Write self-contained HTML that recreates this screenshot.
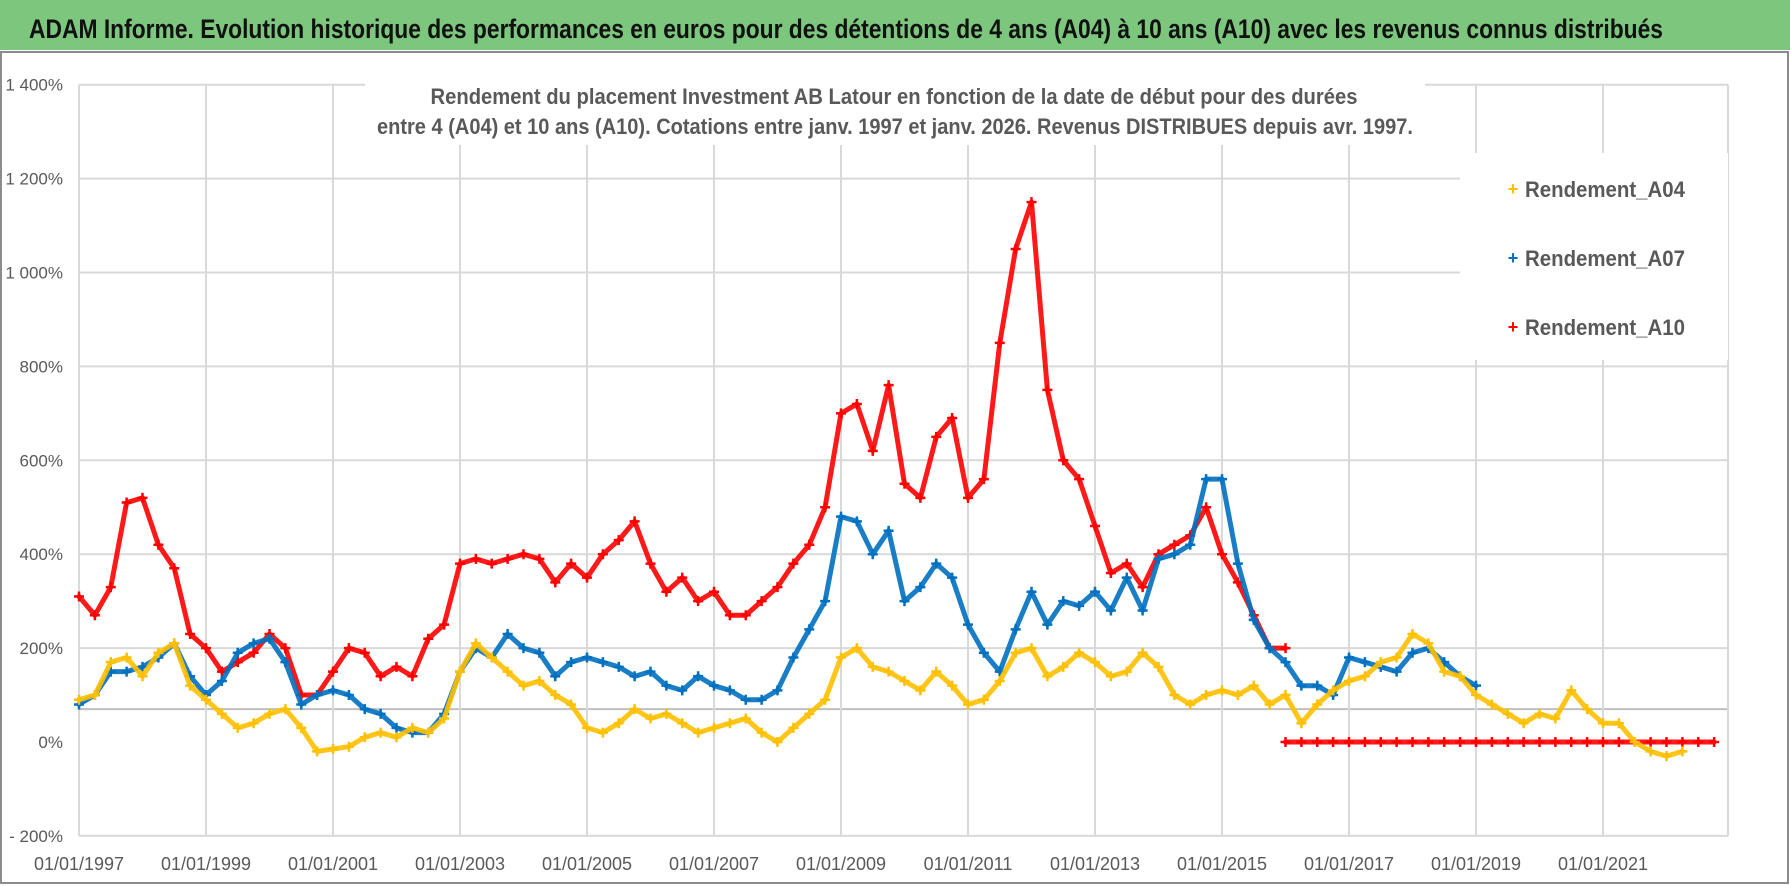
<!DOCTYPE html>
<html><head><meta charset="utf-8">
<style>
html,body{margin:0;padding:0;background:#fff;}
svg{display:block;font-family:"Liberation Sans",sans-serif;}
</style></head>
<body>
<svg id="chart" width="1790" height="886" viewBox="0 0 1790 886" xmlns="http://www.w3.org/2000/svg">
<rect x="0" y="0" width="1790" height="50" fill="#7dc67d"/>
<rect x="1" y="52" width="1787" height="831" fill="#fff" stroke="#8c8c8c" stroke-width="2"/>
<text x="29" y="38" font-size="27" font-weight="bold" fill="#111" textLength="1634" lengthAdjust="spacingAndGlyphs">ADAM Informe. Evolution historique des performances en euros pour des détentions de 4 ans (A04) à 10 ans (A10) avec les revenus connus distribués</text>
<g id="grid"></g>
<g id="ylabels"></g>
<g id="xlabels"></g>
<rect x="365" y="68" width="1060" height="77" fill="#fff"/>
<text x="894" y="104" font-size="22" font-weight="bold" fill="#595959" text-anchor="middle" textLength="927" lengthAdjust="spacingAndGlyphs">Rendement du placement Investment AB Latour en fonction de la date de début pour des durées</text>
<text x="895" y="134" font-size="22" font-weight="bold" fill="#595959" text-anchor="middle" textLength="1036" lengthAdjust="spacingAndGlyphs">entre 4 (A04) et 10 ans (A10).  Cotations entre janv. 1997 et janv. 2026. Revenus DISTRIBUES depuis avr. 1997.</text>
<g id="series"></g>
<rect x="1460" y="153" width="268" height="207" fill="#fff"/>
<g>
<text x="1513" y="195" font-size="18" fill="#ffc000" text-anchor="middle" font-weight="bold">+</text>
<text x="1525" y="197" font-size="22" font-weight="bold" fill="#595959" textLength="160" lengthAdjust="spacingAndGlyphs">Rendement_A04</text></g>
<g>
<text x="1513" y="264" font-size="18" fill="#0070c0" text-anchor="middle" font-weight="bold">+</text>
<text x="1525" y="266" font-size="22" font-weight="bold" fill="#595959" textLength="160" lengthAdjust="spacingAndGlyphs">Rendement_A07</text></g>
<g>
<text x="1513" y="333" font-size="18" fill="#ff0000" text-anchor="middle" font-weight="bold">+</text>
<text x="1525" y="335" font-size="22" font-weight="bold" fill="#595959" textLength="160" lengthAdjust="spacingAndGlyphs">Rendement_A10</text></g>
</svg>
<script>
const yTicks=[1400,1200,1000,800,600,400,200,0,-200];
const yTickLabels=["1 400%","1 200%","1 000%","800%","600%","400%","200%","0%","- 200%"];
const xTicks=[1997,1999,2001,2003,2005,2007,2009,2011,2013,2015,2017,2019,2021];
const xTickLabels=["01/01/1997","01/01/1999","01/01/2001","01/01/2003","01/01/2005","01/01/2007","01/01/2009","01/01/2011","01/01/2013","01/01/2015","01/01/2017","01/01/2019","01/01/2021"];
const refLineValue=70;
const a04Start=1997, a04Step=0.25;
const a04=[90,100,170,180,140,190,210,120,90,60,30,40,60,70,30,-20,-15,-10,10,20,10,30,20,50,150,210,180,150,120,130,100,80,30,20,40,70,50,60,40,20,30,40,50,20,0,30,60,90,180,200,160,150,130,110,150,120,80,90,130,190,200,140,160,190,170,140,150,190,160,100,80,100,110,100,120,80,100,40,80,110,130,140,170,180,230,210,150,140,100,80,60,40,60,50,110,70,40,40,0,-20,-30,-20];
const a07Start=1997, a07Step=0.25;
const a07=[80,100,150,150,160,180,210,140,100,130,190,210,220,170,80,100,110,100,70,60,30,20,20,60,150,200,180,230,200,190,140,170,180,170,160,140,150,120,110,140,120,110,90,90,110,180,240,300,480,470,400,450,300,330,380,350,250,190,150,240,320,250,300,290,320,280,350,280,390,400,420,560,560,380,260,200,170,120,120,100,180,170,160,150,190,200,170,140,120];
const a10Start=1997, a10Step=0.25;
const a10=[310,270,330,510,520,420,370,230,200,150,170,190,230,200,100,100,150,200,190,140,160,140,220,250,380,390,380,390,400,390,340,380,350,400,430,470,380,320,350,300,320,270,270,300,330,380,420,500,700,720,620,760,550,520,650,690,520,560,850,1050,1150,750,600,560,460,360,380,330,400,420,440,500,400,340,270,200,200];
const a10ZeroStart=2016.0, a10ZeroStep=0.25;
const a10Zero=[0,0,0,0,0,0,0,0,0,0,0,0,0,0,0,0,0,0,0,0,0,0,0,0,0,0,0,0];

const NS="http://www.w3.org/2000/svg";
const X0=79, X1=1728, Y0=742, PXY=63.5, PXV=0.4695;
function xs(yr){return X0+(yr-1997)*PXY;}
function ys(v){return Y0-v*PXV;}
function mk(tag,attrs,parent){const e=document.createElementNS(NS,tag);for(const k in attrs)e.setAttribute(k,attrs[k]);parent.appendChild(e);return e;}
const grid=document.getElementById('grid');
yTicks.forEach((v,i)=>{
  if(v!==0){const l=mk('line',{x1:X0,x2:X1,y1:ys(v),y2:ys(v),stroke:'#d9d9d9','stroke-width':2},grid);
  
  }
  const t=mk('text',{x:63,y:ys(v)+6,'font-size':17,fill:'#595959','text-anchor':'end'},document.getElementById('ylabels'));
  
  
  t.textContent=yTickLabels[i];
});
const rl=mk('line',{x1:X0,x2:X1,y1:ys(refLineValue),y2:ys(refLineValue),stroke:'#bfbfbf','stroke-width':2},grid);


xTicks.forEach((yr,i)=>{
  const l=mk('line',{x1:xs(yr),x2:xs(yr),y1:ys(1400),y2:ys(-200),stroke:'#d9d9d9','stroke-width':2},grid);
  
  
  const t=mk('text',{x:xs(yr),y:870,'font-size':18,fill:'#595959','text-anchor':'middle'},document.getElementById('xlabels'));
  
  
  t.textContent=xTickLabels[i];
});
const rg=mk('line',{x1:X1,x2:X1,y1:ys(1400),y2:ys(-200),stroke:'#d9d9d9','stroke-width':2},grid);


function drawSeries(vals,start,step,color,name){
  const g=mk('g',{},document.getElementById('series'));
  
  
  const pts=vals.map((v,i)=>xs(start+i*step).toFixed(1)+','+ys(v).toFixed(1)).join(' ');
  mk('polyline',{points:pts,fill:'none',stroke:color,'stroke-width':5,'stroke-linejoin':'round','stroke-linecap':'round','stroke-opacity':0.9},g);
  vals.forEach((v,i)=>{
    const cx=xs(start+i*step), cy=ys(v);
    const p=mk('path',{d:`M${cx-5} ${cy}H${cx+5}M${cx} ${cy-5}V${cy+5}`,stroke:color,'stroke-width':2.5},g);
    
    
  });
}
drawSeries(a10,a10Start,a10Step,'#ff0000','series-a10');
drawSeries(a10Zero,a10ZeroStart,a10ZeroStep,'#ff0000','series-a10-zero');
drawSeries(a07,a07Start,a07Step,'#0070c0','series-a07');
drawSeries(a04,a04Start,a04Step,'#ffc000','series-a04');
</script>
</body></html>
